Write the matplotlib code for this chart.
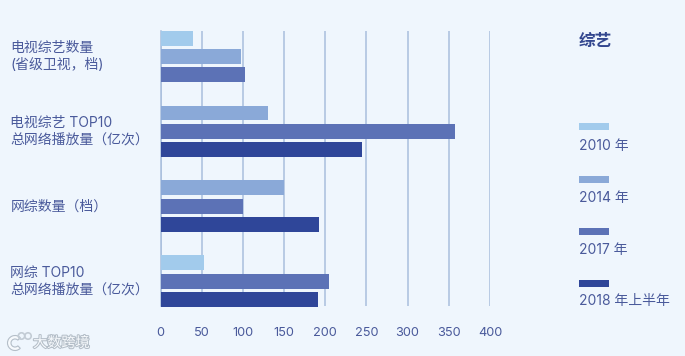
import matplotlib
matplotlib.use("Agg")
import matplotlib.pyplot as plt
from matplotlib.patches import Rectangle, Wedge, Circle
from matplotlib.transforms import blended_transform_factory, IdentityTransform
import matplotlib.patheffects as pe

# Inter pour les chiffres et le latin, Noto pour le chinois
plt.rcParams['font.family'] = ['Inter', 'Noto Sans CJK SC', 'DejaVu Sans']

categories = ["电视综艺数量\n(省级卫视，档)", "电视综艺 TOP10\n总网络播放量（亿次）", "网综数量（档）", "网综 TOP10\n总网络播放量（亿次）"]
years = ["2010 年", "2014 年", "2017 年", "2018 年上半年"]

# None = pas de barre pour cette année
v2010 = [40, None, None, 53]
v2014 = [98, 130, 150, None]
v2017 = [103, 358, 100, 205]
v2018 = [None, 245, 193, 191]
series = [v2010, v2014, v2017, v2018]

xticks = [0, 50, 100, 150, 200, 250, 300, 350, 400]

W, H = 685, 356
BG = "#eff6fd"
TXT = "#4a5a9b"
colors = ["#a2cbec", "#8aa9d8", "#5c72b6", "#2f4699"]

fig = plt.figure(figsize=(W / 100, H / 100), dpi=100, facecolor=BG)
# axe calé sur les pixels de la grille
ax = fig.add_axes([160.5 / W, 1 - 306 / H, 329.5 / W, 275 / H], facecolor="none")
ax.set_xlim(0, 400)
ax.set_ylim(3.33, -0.339)

# 3 barres par groupe, les années absentes ne prennent pas de place
for i in range(len(categories)):
    slot = 0
    for vals, c in zip(series, colors):
        if vals[i] is None:
            continue
        ax.barh(i + (slot - 1) * 0.245, vals[i], height=0.2, color=c, zorder=3, clip_on=False)
        slot += 1

ax.set_xticks(xticks)
ax.set_yticks([])
ax.grid(axis="x", color="#a9bedd", linewidth=1.1, zorder=1)
ax.set_axisbelow(True)
for s in ["top", "right", "bottom"]:
    ax.spines[s].set_visible(False)
ax.spines["left"].set_color("#a9bedd")
ax.spines["left"].set_linewidth(1.1)
ax.tick_params(axis="x", length=0, pad=15, labelsize=9.2, labelcolor=TXT)

trans = blended_transform_factory(fig.transFigure, ax.transData)
for i, name in enumerate(categories):
    ax.text(10.5 / W, i, name, transform=trans, ha="left", va="center", multialignment="left",
            fontsize=10, color=TXT, linespacing=1.27)

# légende à la main : trait au-dessus du texte
fig.text(579 / W, 1 - 41 / H, "综艺", fontsize=12, fontweight="bold", color="#33478f", va="center", ha="left")
swatch_y = [123, 176, 228, 280]
label_y = [146, 198, 250, 301]
for name, c, sy, ly in zip(years, colors, swatch_y, label_y):
    fig.add_artist(Rectangle((579 / W, 1 - (sy + 7) / H), 30 / W, 7 / H, transform=fig.transFigure,
                             facecolor=c, edgecolor="none"))
    fig.text(579 / W, 1 - ly / H, name, fontsize=10, color=TXT, va="center", ha="left")

# filigrane : logo en formes (coordonnées pixels), nom en texte
halo = [pe.withStroke(linewidth=1.5, foreground="#b4bec8")]
fig.text(33 / W, 1 - 343 / H, "大数跨境", fontsize=10.2, color="#f7fafd", va="center", ha="left", path_effects=halo)
fig.add_artist(Wedge((15, H - 343), 7.5, 45, 315, width=3.5, transform=IdentityTransform(),
                     facecolor="#f7fafd", edgecolor="#b4bec8", linewidth=0.8))
fig.add_artist(Circle((21.5, H - 336), 3.2, transform=IdentityTransform(), facecolor="none",
                      edgecolor="#c3ccd5", linewidth=1.2))
fig.add_artist(Circle((28, H - 336), 3.2, transform=IdentityTransform(), facecolor="none",
                      edgecolor="#c3ccd5", linewidth=1.2))

fig.savefig("out.png", dpi=100, facecolor=BG)
plt.close(fig)
